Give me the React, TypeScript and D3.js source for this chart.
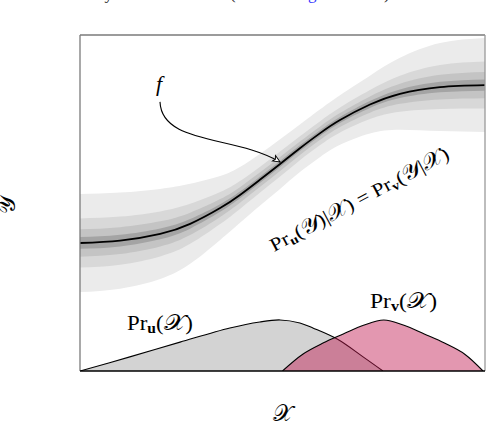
import React from 'react';
import * as d3 from 'd3';

// f(x): mean curve (x: 0..100, y: 0..100)
const curveX = [0, 9.9, 19.8, 27.2, 34.6, 39.5, 44.4, 49.4, 54.3, 59.3, 64.2, 71.6, 79, 88.9, 100];
const curveY = [38.1, 38.8, 40.8, 43.8, 48.5, 52.4, 56.9, 61.6, 66.3, 70.8, 74.7, 79.3, 82.5, 84.5, 85.1];
// half-width of the outermost uncertainty band at the same x positions
const bandHalf = [14.6, 14.3, 13.4, 11.9, 9.5, 8.3, 7.7, 7.4, 7.1, 7.1, 7.4, 8.6, 10.7, 13.1, 14];
const bandLevels = [1, 0.5, 0.28, 0.12];
const bandColors = ['#ebebeb', '#d8d8d8', '#c4c4c4', '#a4a4a4'];

// input densities
const prUX = [0, 12.3, 24.7, 37, 44.4, 49.4, 54.3, 57.5, 63.5, 69.9, 74.8];
const prUY = [0, 4.2, 8.6, 12.8, 14.6, 15.2, 14.3, 12.8, 9.5, 4.2, 0];
const prVX = [50, 55, 60, 65, 70, 75, 80, 85, 90, 95, 99.5];
const prVY = [0, 5, 8.3, 11, 13.6, 15.2, 13.6, 11, 8.3, 5, 0];

// annotation arrow (start, control1, control2, end) in data units
const arrowX = [19.75, 20.2, 38.3, 49.4];
const arrowY = [80.1, 67.3, 70.2, 62.2];

const W = 486;
const H = 424;
const L = 80, R = 485, T = 35, B = 371;

export default function App() {
  const x = d3.scaleLinear().domain([0, 100]).range([L, R]);
  const y = d3.scaleLinear().domain([0, 100]).range([B, T]);

  const idx = curveX.map((_, i) => i);
  const band = (lev: number) =>
    d3.area<number>()
      .x((i) => x(curveX[i]))
      .y0((i) => y(curveY[i] - bandHalf[i] * lev))
      .y1((i) => y(curveY[i] + bandHalf[i] * lev))
      .curve(d3.curveNatural)(idx) || '';
  const mean = d3.line<number>()
    .x((i) => x(curveX[i]))
    .y((i) => y(curveY[i]))
    .curve(d3.curveNatural)(idx) || '';

  const dCurve = d3.curveCatmullRom.alpha(0.5);
  const dens = (xs: number[], ys: number[]) =>
    d3.area<number>()
      .x((i) => x(xs[i]))
      .y0(y(0))
      .y1((i) => y(ys[i]))
      .curve(dCurve)(xs.map((_, i) => i)) || '';
  const densLine = (xs: number[], ys: number[]) =>
    d3.line<number>()
      .x((i) => x(xs[i]))
      .y((i) => y(ys[i]))
      .curve(dCurve)(xs.map((_, i) => i)) || '';

  const p = d3.path();
  p.moveTo(x(arrowX[0]), y(arrowY[0]));
  p.bezierCurveTo(x(arrowX[1]), y(arrowY[1]), x(arrowX[2]), y(arrowY[2]), x(arrowX[3]), y(arrowY[3]));

  const serif = "'Liberation Serif', 'DejaVu Serif', serif";
  const cal = "'DejaVu Serif', 'DejaVu Sans', serif";

  const Pr = (sub: string, arg: string) => (
    <>
      <tspan>Pr</tspan>
      <tspan fontWeight="bold" fontSize="0.68em" dy="0.22em">{sub}</tspan>
      <tspan dy="-0.15em">(</tspan>
      <tspan fontFamily={cal} fontSize="1.12em">{arg}</tspan>
      <tspan>)</tspan>
    </>
  );

  return (
    <svg width={W} height={H} style={{ position: 'absolute', left: 0, top: 0, background: '#fff' }}
      fontFamily={serif}>
      <defs>
        <clipPath id="frame">
          <rect x={L} y={T} width={R - L} height={B - T} />
        </clipPath>
        <marker id="ah" viewBox="0 0 10 10" refX="9" refY="5" markerWidth="9" markerHeight="9"
          markerUnits="userSpaceOnUse" orient="auto">
          <path d="M1,1.5 L9,5 L1,8.5 L3,5 Z" fill="#fff" stroke="#000" strokeWidth="1" />
        </marker>
      </defs>

      {/* cut-off caption from the page above */}
      <text y={-1} fontSize={17} fill="#222">
        <tspan x={96}>by</tspan>
        <tspan x={230}>(</tspan>
        <tspan x={308} fill="#3333ff">g</tspan>
        <tspan x={384}>)</tspan>
      </text>

      <g clipPath="url(#frame)">
        {bandLevels.map((lev, k) => (
          <path key={k} d={band(lev)} fill={bandColors[k]} />
        ))}
        <path d={mean} fill="none" stroke="#000" strokeWidth={1.8} />

        <path d={dens(prUX, prUY)} fill="#d3d3d3" />
        <path d={densLine(prUX, prUY)} fill="none" stroke="#000" strokeWidth={1.1} />
        <path d={dens(prVX, prVY)} fill="rgb(194,24,80)" fillOpacity={0.45} />
        <path d={densLine(prVX, prVY)} fill="none" stroke="#000" strokeWidth={1.1} />
      </g>

      {/* frame */}
      <line x1={L} y1={T} x2={R} y2={T} stroke="#7a7a7a" strokeWidth={1.3} />
      <line x1={L} y1={T} x2={L} y2={B} stroke="#7a7a7a" strokeWidth={1.3} />
      <line x1={R} y1={T} x2={R} y2={B} stroke="#9a9a9a" strokeWidth={1.3} />
      <line x1={L} y1={B} x2={R} y2={B} stroke="#000" strokeWidth={1.6} />

      {/* arrow */}
      <path d={p.toString()} fill="none" stroke="#000" strokeWidth={1.1} markerEnd="url(#ah)" />
      <text x={156} y={91} fontSize={22} fontStyle="italic">f</text>

      <text x={127} y={330} fontSize={20} textLength={66} lengthAdjust="spacingAndGlyphs">
        {Pr('u', '𝒳')}
      </text>
      <text x={370} y={308} fontSize={20} textLength={67} lengthAdjust="spacingAndGlyphs">
        {Pr('v', '𝒳')}
      </text>

      <text transform="translate(274,252) rotate(-28)" fontSize={19} textLength={200}
        lengthAdjust="spacingAndGlyphs">
        {Pr('u', '𝒴')}
        <tspan>|</tspan>
        <tspan fontFamily={cal} fontSize="1.12em">𝒳</tspan>
        <tspan>) = </tspan>
        <tspan>Pr</tspan>
        <tspan fontWeight="bold" fontSize="0.68em" dy="0.22em">v</tspan>
        <tspan dy="-0.15em">(</tspan>
        <tspan fontFamily={cal} fontSize="1.12em">𝒴</tspan>
        <tspan>|</tspan>
        <tspan fontFamily={cal} fontSize="1.12em">𝒳</tspan>
        <tspan>)</tspan>
      </text>

      <text x={283} y={421} fontSize={23} textAnchor="middle" fontFamily={cal}>𝒳</text>
      <text transform="translate(15,205) rotate(-90)" fontSize={23} textAnchor="middle"
        fontFamily={cal}>𝒴</text>
    </svg>
  );
}
